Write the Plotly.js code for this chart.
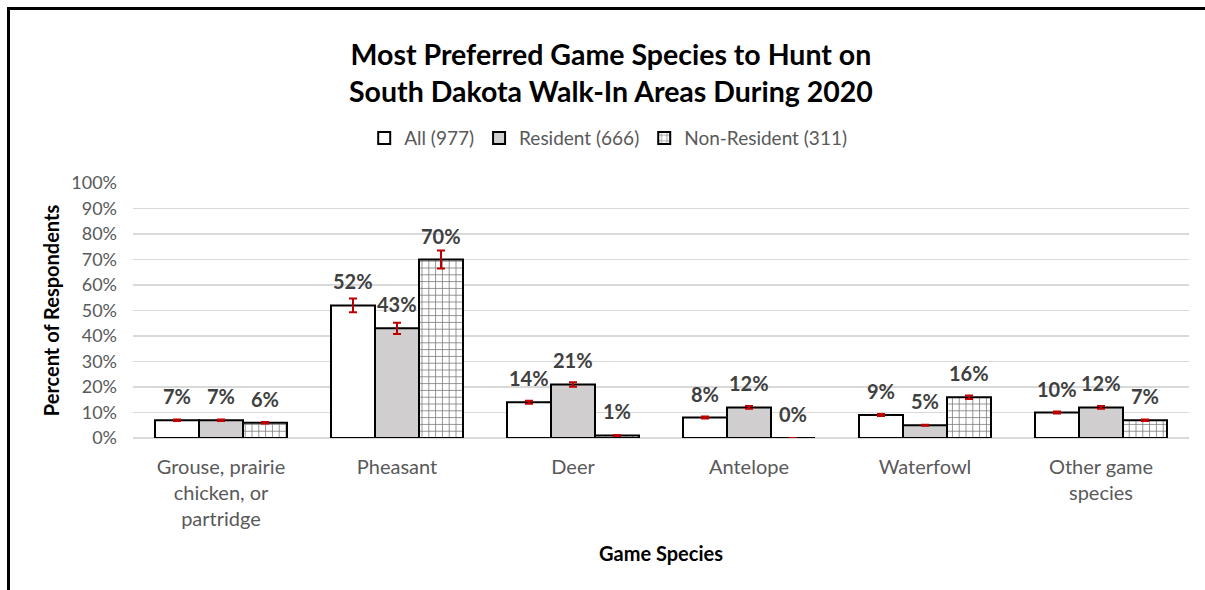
<!DOCTYPE html>
<html>
<head>
<meta charset="utf-8">
<script src="https://cdn.plot.ly/plotly-3.0.1.min.js"></script>
<style>
  html, body { margin: 0; padding: 0; background: #ffffff; }
  #wrap { position: relative; width: 1205px; height: 590px; overflow: hidden; }
  #chart { position: absolute; left: 0; top: 0; width: 1205px; height: 590px; }
  #frame { position: absolute; left: 7px; top: 7px; width: 1210px; height: 600px;
           border-top: 3px solid #000; border-left: 3px solid #000; pointer-events: none; }
</style>
</head>
<body>
<div id="wrap">
  <div id="chart"></div>
  <div id="frame"></div>
</div>
<script>
// ---- data ----
var categories = ["Grouse, prairie<br>chicken, or<br>partridge", "Pheasant", "Deer", "Antelope", "Waterfowl", "Other game<br>species"];
var seriesNames = ["All (977)", "Resident (666)", "Non-Resident (311)"];
var allValues = [7, 52, 14, 8, 9, 10];
var residentValues = [7, 43, 21, 12, 5, 12];
var nonResidentValues = [6, 70, 1, 0, 16, 7];
var allErrors = [0.3, 2.7, 0.6, 0.4, 0.4, 0.4];
var residentErrors = [0.3, 2.2, 0.9, 0.5, 0.2, 0.5];
var nonResidentErrors = [0.3, 3.5, 0.2, 0, 0.7, 0.3];
var yTickVals = [0, 10, 20, 30, 40, 50, 60, 70, 80, 90, 100];

var FONT = "Lato, 'Open Sans', sans-serif";
var errStyle = function (arr) {
  return { type: 'data', array: arr, visible: true, color: '#C00000', thickness: 2, width: 4 };
};

var traces = [
  {
    type: 'bar', name: seriesNames[0], x: categories, y: allValues,
    marker: { color: '#ffffff', line: { color: '#000000', width: 2 } },
    error_y: errStyle(allErrors), hoverinfo: 'none'
  },
  {
    type: 'bar', name: seriesNames[1], x: categories, y: residentValues,
    marker: { color: '#d0cece', line: { color: '#000000', width: 2 } },
    error_y: errStyle(residentErrors), hoverinfo: 'none'
  },
  {
    type: 'bar', name: seriesNames[2], x: categories, y: nonResidentValues,
    marker: {
      color: '#ffffff', line: { color: '#000000', width: 2 },
      pattern: { shape: '+', fgcolor: '#7a7a7a', bgcolor: '#ffffff', size: 6.8, solidity: 0.22, fillmode: 'replace' }
    },
    error_y: errStyle(nonResidentErrors), hoverinfo: 'none'
  }
];

// data labels as annotations positioned through the axes
var groupVals = [allValues, residentValues, nonResidentValues];
var barPx = 44;
var annotations = [];
groupVals.forEach(function (vals, j) {
  vals.forEach(function (v, i) {
    annotations.push({
      xref: 'x', yref: 'y', x: categories[i], y: v,
      xshift: (j - 1) * barPx, yshift: 24,
      text: v + '%', showarrow: false, yanchor: 'middle',
      font: { family: FONT, size: 20, color: '#404040', weight: 'bold' }
    });
  });
});

var layout = {
  width: 1205, height: 590, autosize: false,
  margin: { l: 133, r: 16, t: 183, b: 152, autoexpand: false },
  paper_bgcolor: '#ffffff', plot_bgcolor: '#ffffff',
  barmode: 'group', bargap: 0.25, bargroupgap: 0,
  title: {
    text: '<b>Most Preferred Game Species to Hunt on<br>South Dakota Walk-In Areas During 2020</b>',
    font: { family: FONT, size: 28.5, color: '#000000' },
    xref: 'container', x: 0.507, xanchor: 'center',
    yref: 'container', y: 1 - 65 / 590, yanchor: 'middle'
  },
  showlegend: true,
  legend: {
    orientation: 'h', xref: 'paper', x: 0.45, xanchor: 'center',
    yref: 'paper', y: 1.176, yanchor: 'middle',
    font: { family: FONT, size: 19, color: '#595959' },
    itemwidth: 30, traceorder: 'normal'
  },
  xaxis: {
    type: 'category', automargin: false, tickangle: 0,
    tickfont: { family: FONT, size: 20, color: '#595959' },
    showgrid: false, showline: false, zeroline: false, ticks: '',
    ticklabelstandoff: 15,
    title: { text: '<b>Game Species</b>', font: { family: FONT, size: 20, color: '#000000' }, standoff: 17 }
  },
  yaxis: {
    automargin: false,
    range: [0, 100], tickvals: yTickVals, ticktext: yTickVals.map(function (v) { return v + '%'; }),
    tickfont: { family: FONT, size: 18, color: '#595959' },
    showgrid: true, gridcolor: '#d9d9d9', gridwidth: 1.5,
    zeroline: true, zerolinecolor: '#d9d9d9', zerolinewidth: 1.5,
    showline: false, ticks: '', ticklabelstandoff: 15,
    title: { text: '<b>Percent of Respondents</b>', font: { family: FONT, size: 20, color: '#000000' }, standoff: 6 },
    fixedrange: true
  },
  annotations: annotations
};

Plotly.newPlot('chart', traces, layout, { displayModeBar: false, staticPlot: true });
</script>
</body>
</html>
